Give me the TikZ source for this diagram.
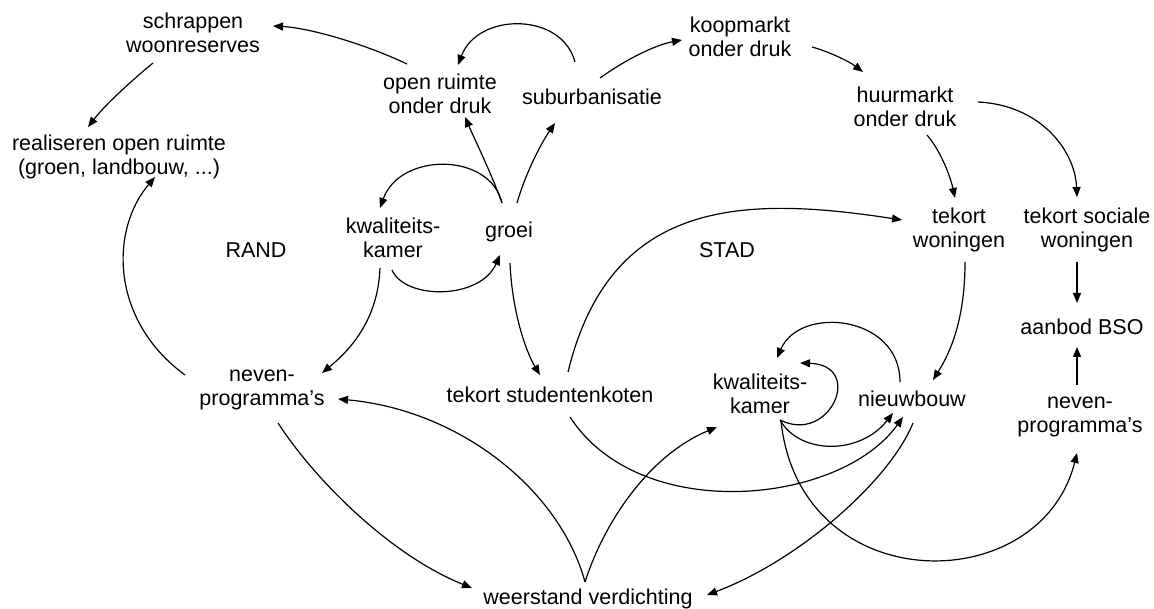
\documentclass[tikz,border=0pt]{standalone}
\usepackage{fontspec}
\setmainfont{Liberation Sans}
\usetikzlibrary{arrows.meta}
\begin{document}
\begin{tikzpicture}[x=1pt,y=-1pt,
  lbl/.style={font=\fontsize{21.5}{24.5}\selectfont, align=center, inner sep=0pt},
  conn/.style={line width=1.2pt, -{Triangle[length=10pt,width=8pt]}}]
\useasboundingbox (0,0) rectangle (1154,609);
% nodes
\node[lbl] (schr) at (193,33) {schrappen\\woonreserves};
\node[lbl] (real) at (119,157) {realiseren open ruimte\\(groen, landbouw, ...)};
\node[lbl] (open) at (440,94) {open ruimte\\onder druk};
\node[lbl] (sub) at (592,97) {suburbanisatie};
\node[lbl] (koop) at (740,37) {koopmarkt\\onder druk};
\node[lbl] (huur) at (905,107) {huurmarkt\\onder druk};
\node[lbl] (kkA) at (393,238) {kwaliteits-\\kamer};
\node[lbl] (groei) at (509,232) {groei};
\node[lbl] (rand) at (256,250) {RAND};
\node[lbl] (stad) at (727,250) {STAD};
\node[lbl] (tw) at (959,230) {tekort\\woningen};
\node[lbl] (tsw) at (1087,230) {tekort sociale\\woningen};
\node[lbl] (bso) at (1082,327) {aanbod BSO};
\node[lbl] (nevA) at (262,390) {neven-\\programma's};
\node[lbl] (ts) at (550,395) {tekort studentenkoten};
\node[lbl] (kkB) at (760,394) {kwaliteits-\\kamer};
\node[lbl] (nb) at (912,399) {nieuwbouw};
\node[lbl] (nevB) at (1080,417) {neven-\\programma's};
\node[lbl] (wv) at (588,599) {weerstand verdichting};
% connectors
\draw[conn] ([shift={(-33,-30)}]open.center) .. controls (365,44) and (310,28) .. ([shift={(80,-7)}]schr.center);
\draw[conn] ([shift={(-40,30)}]schr.center) .. controls (130,82) and (105,105) .. ([shift={(-31,-30)}]real.center);
\draw[conn] ([shift={(-77,-15)}]nevA.center) .. controls (110,320) and (110,230) .. ([shift={(36,20)}]real.center);
\draw[conn] ([shift={(-17,-35)}]sub.center) .. controls (562,12) and (478,12) .. ([shift={(18,-29)}]open.center);
\draw[conn] ([shift={(8,-19)}]sub.center) .. controls (625,60) and (655,45) .. ([shift={(-58,3)}]koop.center);
\draw[conn] ([shift={(72,10)}]koop.center) .. controls (830,52) and (850,62) .. ([shift={(-42,-35)}]huur.center);
\draw[conn] ([shift={(22,28)}]huur.center) .. controls (940,150) and (950,175) .. ([shift={(-4,-32)}]tw.center);
\draw[conn] ([shift={(73,-5)}]huur.center) .. controls (1040,105) and (1075,150) .. ([shift={(-10,-33)}]tsw.center);
\draw[conn] ([shift={(-10,32)}]tsw.center) -- ([shift={(-5,-24)}]bso.center);
\draw[conn] ([shift={(-3,-32)}]nevB.center) -- ([shift={(-5,20)}]bso.center);
\draw[conn] ([shift={(-7,-29)}]groei.center) .. controls (492,175) and (475,140) .. ([shift={(25,23)}]open.center);
\draw[conn] ([shift={(8,-29)}]groei.center) .. controls (525,175) and (540,145) .. ([shift={(-37,26)}]sub.center);
\draw[conn] ([shift={(-7,-29)}]groei.center) .. controls (490,152) and (400,152) .. ([shift={(-13,-30)}]kkA.center);
\draw[conn] ([shift={(-1,32)}]kkA.center) .. controls (405,300) and (480,300) .. ([shift={(-9,23)}]groei.center);
\draw[conn] ([shift={(-13,30)}]kkA.center) .. controls (378,320) and (350,350) .. ([shift={(60,-17)}]nevA.center);
\draw[conn] ([shift={(1,31)}]groei.center) .. controls (512,310) and (525,350) .. ([shift={(-10,-20)}]ts.center);
\draw[conn] ([shift={(18,-23)}]ts.center) .. controls (610,200) and (740,195) .. ([shift={(-57,-10)}]tw.center);
\draw[conn] ([shift={(6,32)}]tw.center) .. controls (965,310) and (955,345) .. ([shift={(21,-19)}]nb.center);
\draw[conn] ([shift={(-12,-17)}]nb.center) .. controls (900,315) and (800,305) .. ([shift={(17,-36)}]kkB.center);
\draw[conn] ([shift={(20,26)}]kkB.center) .. controls (830,445) and (865,365) .. ([shift={(40,-31)}]kkB.center);
\draw[conn] ([shift={(20,26)}]kkB.center) .. controls (800,455) and (860,455) .. ([shift={(-19,14)}]nb.center);
\draw[conn] ([shift={(21,27)}]kkB.center) .. controls (800,600) and (1040,600) .. ([shift={(-3,36)}]nevB.center);
\draw[conn] ([shift={(20,22)}]ts.center) .. controls (640,525) and (840,505) .. ([shift={(-9,18)}]nb.center);
\draw[conn] ([shift={(1,24)}]nb.center) .. controls (890,480) and (800,560) .. ([shift={(119,-4)}]wv.center);
\draw[conn] ([shift={(-3,-17)}]wv.center) .. controls (605,520) and (650,455) .. ([shift={(-43,33)}]kkB.center);
\draw[conn] ([shift={(-3,-17)}]wv.center) .. controls (560,490) and (460,410) .. ([shift={(76,9)}]nevA.center);
\draw[conn] ([shift={(16,33)}]nevA.center) .. controls (315,480) and (390,555) .. ([shift={(-116,-11)}]wv.center);
\end{tikzpicture}
\end{document}
